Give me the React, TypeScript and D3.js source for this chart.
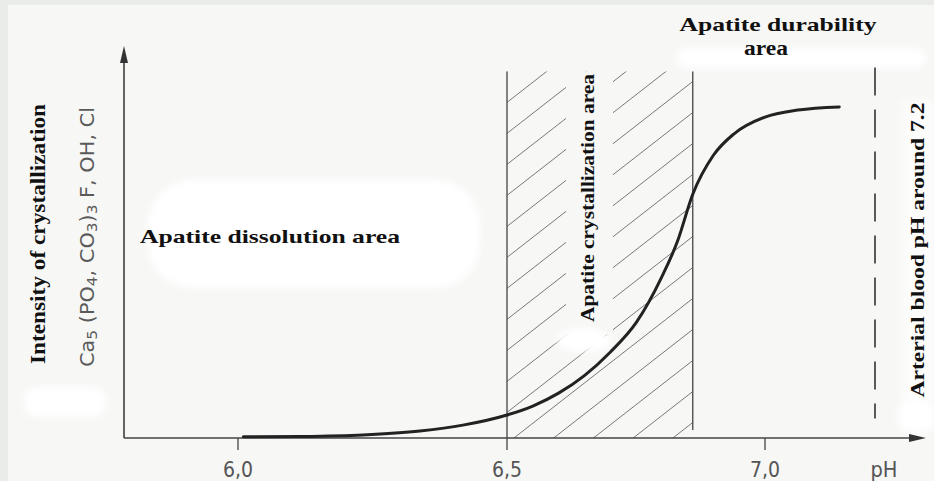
import React from "react";
import * as d3 from "d3";

// ---- data ----
const phTicks = [6, 6.5, 7];
const tickLabels = ["6,0", "6,5", "7,0"];
const curvePH = [6.01, 6.115, 6.232, 6.338, 6.418, 6.5, 6.55, 6.6, 6.65, 6.7, 6.75, 6.8, 6.83, 6.86, 6.9, 6.94, 7.0, 7.06, 7.135];
const curveIntensity = [0.3, 0.4, 0.8, 1.8, 3.3, 5.9, 8.2, 11.5, 16, 22, 29.5, 41.3, 50.3, 62.5, 72.5, 78, 82.3, 84.1, 84.9];
const crystallizationRange = [6.5, 6.86];
const regionTop = 94;
const bloodPH = 7.2;
const bloodLine = [5, 95];

const W = 934;
const H = 481;
const BG = "#f7f7f6";
const SERIF = "'Liberation Serif', 'Times New Roman', serif";
const COND = "'DejaVu Sans Condensed', 'Liberation Sans Narrow', sans-serif";

export default function App() {
  const x = d3.scaleLinear().domain([6, 6.5, 7, 7.2]).range([238, 507, 765, 875]);
  const y = d3.scaleLinear().domain([0, 100]).range([438, 48]);
  const x0 = 124;
  const y0 = y(0);

  const pts: [number, number][] = curvePH.map((p, i) => [p, curveIntensity[i]]);
  const line = d3
    .line<[number, number]>()
    .x((d) => x(d[0]))
    .y((d) => y(d[1]))
    .curve(d3.curveMonotoneX);

  const hx0 = x(crystallizationRange[0]);
  const hx1 = x(crystallizationRange[1]);
  const hTop = y(regionTop);

  const slope = 0.78;
  const hatch = d3.range(-20, 30).map((k) => {
    const yl = hTop + k * 31;
    return { x1: hx0, y1: yl, x2: hx1, y2: yl - slope * (hx1 - hx0) };
  });

  return (
    <svg
      width={W}
      height={H}
      style={{ position: "absolute", left: 0, top: 0 }}
      xmlns="http://www.w3.org/2000/svg"
    >
      <defs>
        <filter id="blur" x="-20%" y="-50%" width="140%" height="200%">
          <feGaussianBlur stdDeviation="3" />
        </filter>
        <clipPath id="hclip">
          <rect x={hx0} y={hTop} width={hx1 - hx0} height={y0 - hTop} />
        </clipPath>
      </defs>
      <rect x={0} y={0} width={W} height={H} fill="#eaece9" />
      <rect x={8} y={5} width={W - 8} height={H - 5} fill={BG} />

      {/* white erasure blobs */}
      <g fill="#ffffff" filter="url(#blur)">
        <rect x={148} y={180} width={332} height={108} rx={45} />
        <rect x={24} y={387} width={82} height={30} rx={14} />
        <rect x={676} y={48} width={250} height={20} rx={10} />
        <rect x={898} y={400} width={36} height={32} rx={10} />
        <rect x={902} y={100} width={32} height={300} rx={2} opacity={0.6} />
      </g>

      {/* hatching */}
      <g clipPath="url(#hclip)" stroke="#6a6a6a" strokeWidth={0.9}>
        {hatch.map((h, i) => (
          <line key={i} x1={h.x1} y1={h.y1} x2={h.x2} y2={h.y2} />
        ))}
      </g>
      <rect x={566} y={hTop} width={47} height={263} fill={BG} />
      <ellipse cx={584} cy={340} rx={27} ry={12} fill="#ffffff" filter="url(#blur)" />

      {/* region boundaries */}
      <line x1={hx0} x2={hx0} y1={hTop} y2={y0 + 12} stroke="#444" strokeWidth={1.3} />
      <line x1={hx1} x2={hx1} y1={hTop} y2={y0 - 8} stroke="#444" strokeWidth={1.3} />

      {/* blood pH dashed line */}
      <line
        x1={x(bloodPH)}
        x2={x(bloodPH)}
        y1={y(bloodLine[1])}
        y2={y(bloodLine[0])}
        stroke="#333"
        strokeWidth={1.6}
        strokeDasharray="28 14"
      />

      {/* axes */}
      <line x1={x0} x2={x0} y1={60} y2={y0} stroke="#333" strokeWidth={1.5} />
      <path d={`M${x0},46 L${x0 - 4},63 L${x0 + 4},63 Z`} fill="#333" />
      <line x1={x0} x2={912} y1={y0} y2={y0} stroke="#444" strokeWidth={1.5} />
      <path d={`M926,${y0} L909,${y0 - 4} L909,${y0 + 4} Z`} fill="#333" />
      {phTicks.map((t, i) => (
        <g key={t}>
          {t !== crystallizationRange[0] && (
            <line x1={x(t)} x2={x(t)} y1={y0} y2={y0 + 12} stroke="#444" strokeWidth={1.3} />
          )}
          <text
            x={x(t)}
            y={477}
            textAnchor="middle"
            fontFamily={COND}
            fontSize={22}
            fill="#555"
            textLength={30}
            lengthAdjust="spacingAndGlyphs"
          >
            {tickLabels[i]}
          </text>
        </g>
      ))}
      <text
        x={884}
        y={477}
        textAnchor="middle"
        fontFamily={COND}
        fontSize={22}
        fill="#555"
        textLength={27}
        lengthAdjust="spacingAndGlyphs"
      >
        pH
      </text>

      {/* curve */}
      <path d={line(pts) || ""} fill="none" stroke="#222" strokeWidth={3} strokeLinecap="round" />

      {/* texts */}
      <text
        transform="translate(45,234) rotate(-90)"
        textAnchor="middle"
        fontFamily={SERIF}
        fontWeight="bold"
        fontSize={22}
        fill="#111"
        textLength={260}
        lengthAdjust="spacingAndGlyphs"
      >
        Intensity of crystallization
      </text>
      <text
        transform="translate(94,237) rotate(-90)"
        textAnchor="middle"
        fontFamily={COND}
        fontSize={19}
        fill="#5a5a5a"
        textLength={260}
        lengthAdjust="spacingAndGlyphs"
      >
        Ca<tspan fontSize={14} dy={3}>5</tspan>
        <tspan dy={-3}> (PO</tspan>
        <tspan fontSize={14} dy={3}>4</tspan>
        <tspan dy={-3}>, CO</tspan>
        <tspan fontSize={14} dy={3}>3</tspan>
        <tspan dy={-3}>)</tspan>
        <tspan fontSize={14} dy={3}>3</tspan>
        <tspan dy={-3}> F, OH, Cl</tspan>
      </text>
      <text
        x={140}
        y={243}
        fontFamily={SERIF}
        fontWeight="bold"
        fontSize={19}
        fill="#111"
        textLength={260}
        lengthAdjust="spacingAndGlyphs"
      >
        Apatite dissolution area
      </text>
      <text
        x={778}
        y={31}
        textAnchor="middle"
        fontFamily={SERIF}
        fontWeight="bold"
        fontSize={19}
        fill="#111"
        textLength={197}
        lengthAdjust="spacingAndGlyphs"
      >
        Apatite durability
      </text>
      <text
        x={766}
        y={55}
        textAnchor="middle"
        fontFamily={SERIF}
        fontWeight="bold"
        fontSize={20}
        fill="#111"
        textLength={44}
        lengthAdjust="spacingAndGlyphs"
      >
        area
      </text>
      <text
        transform="translate(594,198) rotate(-90)"
        textAnchor="middle"
        fontFamily={SERIF}
        fontWeight="bold"
        fontSize={19}
        fill="#111"
        textLength={248}
        lengthAdjust="spacingAndGlyphs"
      >
        Apatite crystallization area
      </text>
      <text
        transform="translate(924,250) rotate(-90)"
        textAnchor="middle"
        fontFamily={SERIF}
        fontWeight="bold"
        fontSize={18}
        fill="#111"
        textLength={295}
        lengthAdjust="spacingAndGlyphs"
      >
        Arterial blood pH around 7.2
      </text>
    </svg>
  );
}
